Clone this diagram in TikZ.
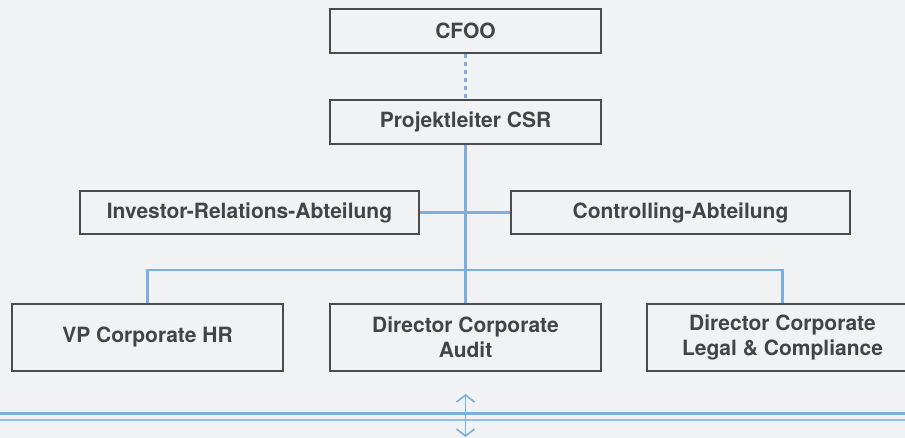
\documentclass[tikz,border=0pt]{standalone}
\usepackage{fontspec}
\setmainfont{TeX Gyre Heros}
\usetikzlibrary{arrows.meta,positioning,calc}
\definecolor{pagebg}{HTML}{F1F2F4}
\definecolor{boxline}{HTML}{4B4B4E}
\definecolor{boxtext}{HTML}{444447}
\definecolor{linkblue}{HTML}{7BAFE2}
\tikzset{
  orgbox/.style={draw=boxline, line width=2.2pt, fill=pagebg, text=boxtext, align=center,
    font=\fontsize{21}{25}\selectfont\bfseries, minimum width=271pt, minimum height=44pt, inner sep=2pt},
  widebox/.style={orgbox, minimum width=339pt, minimum height=43pt},
  tallbox/.style={orgbox, minimum height=67pt},
  link/.style={draw=linkblue, line width=2.2pt},
  dotlink/.style={link, dash pattern=on 4pt off 4pt},
  arrowboth/.style={{Straight Barb[length=7pt,width=18pt]}-{Straight Barb[length=7pt,width=18pt]}, draw=linkblue, line width=1.6pt}
}

\begin{document}
\begin{tikzpicture}[x=1pt, y=-1pt]
  \fill[pagebg] (0,0) rectangle (905,438);
  \useasboundingbox (0,0) rectangle (905,438);
  \node[orgbox] (cfoo) at (465.5,31) {CFOO};
  \node[orgbox] (csr) at (465.5,122) {Projektleiter CSR};
  \node[widebox] (ir) at (249.5,212.5) {Investor-Relations-Abteilung};
  \node[widebox] (ctrl) at (680.5,212.5) {Controlling-Abteilung};
  \node[tallbox] (hr) at (147.5,337.5) {VP Corporate HR};
  \node[tallbox] (audit) at (465.5,337.5) {Director Corporate\\Audit};
  \node[tallbox] (legal) at (782.5,337.5) {Director Corporate\\Legal \& Compliance};
  \coordinate (bus) at (465.5,270);
  \draw[dotlink] (cfoo.south) -- (csr.north);
  \draw[link] (csr.south) -- (audit.north);
  \draw[link] (ir.east) -- (ctrl.west);
  \draw[link] (hr.north) |- (bus) -| (legal.north);
  \draw[linkblue, line width=3pt] (0,413) -- (905,413);
  \draw[linkblue!80, line width=2pt] (0,420) -- (905,420);
  \coordinate (top) at (465.5,394);
  \coordinate (bottom) at (465.5,437);
  \draw[arrowboth] (top) -- (bottom);
\end{tikzpicture}
\end{document}
